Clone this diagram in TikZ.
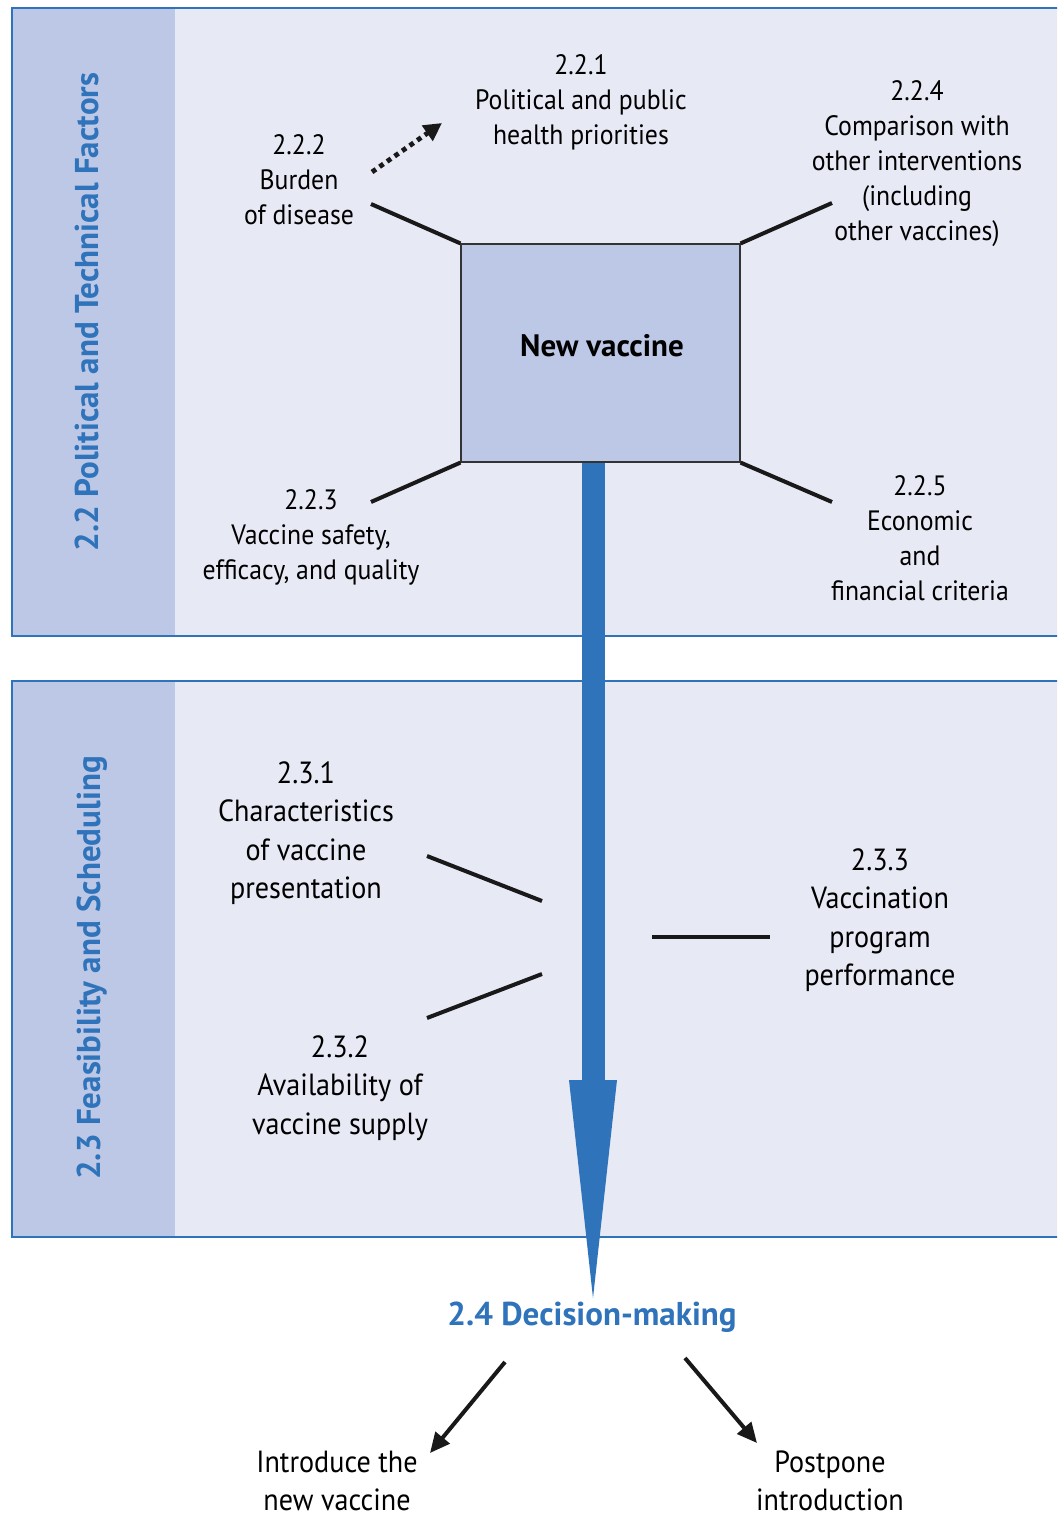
\documentclass[tikz,border=0pt]{standalone}
\usepackage{fontspec}
\setmainfont{PT Sans}[FakeStretch=0.92,BoldFeatures={FakeStretch=1.0}]
\usetikzlibrary{arrows.meta}
\definecolor{vblue}{HTML}{2F73BA}
\definecolor{panelbg}{HTML}{E7E9F5}
\definecolor{stripbg}{HTML}{BDC7E6}
\newcommand{\fsTop}{\fontsize{14}{17.5}\selectfont}
\newcommand{\fsBot}{\fontsize{15.3}{19.2}\selectfont}
\newcommand{\fsTitle}{\fontsize{16.5}{19}\selectfont\bfseries}
\newcommand{\fsBox}{\fontsize{15.5}{18}\selectfont\bfseries}
\begin{document}
\begin{tikzpicture}[x=0.5pt,y=-0.5pt,
  panelfill/.style={fill=panelbg},
  panelframe/.style={draw=vblue,line width=1.1pt},
  stripfill/.style={fill=stripbg},
  vtitle/.style={rotate=90,font=\fsTitle,text=vblue,inner sep=0},
  lbltop/.style={align=center,font=\fsTop,inner sep=0},
  lblbot/.style={align=center,font=\fsBot,inner sep=0},
  linkline/.style={line width=2pt,black!90},
  decarrow/.style={line width=2pt,black!90,-{Triangle[length=10pt,width=9pt]}},
  dotarrow/.style={line width=2.4pt,black!90,dash pattern=on 2.4pt off 2.2pt,-{Triangle[length=9pt,width=9pt]}},
  vaccinebox/.style={draw=black!80,line width=0.6pt,fill=stripbg,minimum width=139.5pt,minimum height=109pt,inner sep=0}]
\useasboundingbox (0,0) rectangle (1057,1520);
\clip (0,0) rectangle (1057,1520);
\fill[white] (0,0) rectangle (1057,1520);
% panels
\fill[panelfill] (12,8) rectangle (1075,636);
\fill[stripfill] (12,8) rectangle (175,636);
\draw[panelframe] (12,8) rectangle (1075,636);
\fill[panelfill] (12,681) rectangle (1075,1237);
\fill[stripfill] (12,681) rectangle (175,1237);
\draw[panelframe] (12,681) rectangle (1075,1237);
% titles
\node[vtitle] (t22) at (87,312) {2.2 Political and Technical Factors};
\node[vtitle] (t23) at (92,968) {2.3 Feasibility and Scheduling};
% box and big arrow
\node[vaccinebox] (nv) at (600.5,353) {};
\node[font=\fsBox,inner sep=0] (nvtext) at (602,346) {New vaccine};
\coordinate (shaftend) at (593.5,1080);
\fill[vblue] (nv.south -| shaftend) ++(-11.5,0) rectangle ([xshift=5.75pt]shaftend);
\fill[vblue] (569,1080) -- (617,1080) -- (593,1298) -- cycle;
% top labels
\node[lbltop] (l221) at (581,102) {2.2.1\\Political and public\\health priorities};
\node[lbltop] (l222) at (299,180) {2.2.2\\Burden\\of disease};
\node[lbltop] (l224) at (917,164) {2.2.4\\Comparison with\\other interventions\\(including\\other vaccines)};
\node[lbltop] (l223) at (311,537) {2.2.3\\Vaccine safety,\\efficacy, and quality};
\node[lbltop] (l225) at (920,538) {2.2.5\\Economic\\and\\financial criteria};
\coordinate (e222) at (371,204);
\coordinate (e224) at (832,203);
\coordinate (e223) at (371,502);
\coordinate (e225) at (832,502);
\draw[linkline] (e222) -- (nv.north west);
\draw[linkline] (e224) -- (nv.north east);
\draw[linkline] (e223) -- (nv.south west);
\draw[linkline] (e225) -- (nv.south east);
\coordinate (d1) at (372,172);
\coordinate (d2) at (442,123);
\draw[dotarrow] (d1) -- (d2);
% bottom labels
\node[lblbot] (l231) at (306,833) {2.3.1\\Characteristics\\of vaccine\\presentation};
\node[lblbot] (l232) at (340,1088) {2.3.2\\Availability of\\vaccine supply};
\node[lblbot] (l233) at (880,920) {2.3.3\\Vaccination\\program\\performance};
\coordinate (a1) at (427,856);
\coordinate (a2) at (542,901);
\coordinate (b1) at (427,1018);
\coordinate (b2) at (542,974);
\coordinate (c1) at (652,937);
\coordinate (c2) at (770,937);
\draw[linkline] (a1) -- (a2);
\draw[linkline] (b1) -- (b2);
\draw[linkline] (c1) -- (c2);
% decision
\node[font=\fsTitle,text=vblue,inner sep=0] (dm) at (592,1317) {2.4 Decision-making};
\node[lblbot] (intro) at (337,1481) {Introduce the\\new vaccine};
\node[lblbot] (post) at (830,1481) {Postpone\\introduction};
\coordinate (s1) at (505,1362);
\coordinate (s2) at (685,1358);
\draw[decarrow] (s1) -- (430,1453) coordinate (f1);
\draw[decarrow] (s2) -- (757,1443) coordinate (f2);
\end{tikzpicture}
\end{document}
